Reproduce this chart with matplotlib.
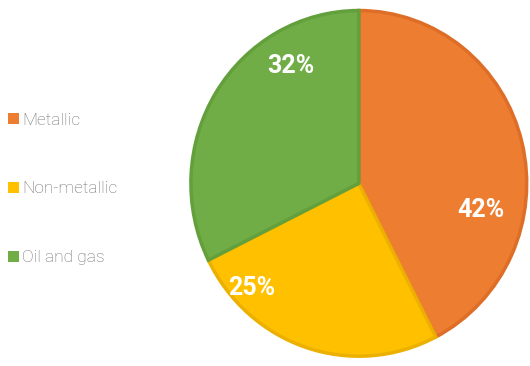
import matplotlib
matplotlib.use('Agg')
import matplotlib.pyplot as plt
from matplotlib.patches import Patch

plt.rcParams['font.family'] = ['Roboto', 'DejaVu Sans']

categories = ['Metallic', 'Non-metallic', 'Oil and gas']
shares = [42, 25, 32]
pct_labels = ['42%', '25%', '32%']

colors = ['#ED7D31', '#FFC000', '#70AD47']
edge_colors = ['#DE6E27', '#EBB000', '#63A03C']
# where the percentage labels sit, in pie-radius units from the centre
label_pos = [(0.72, -0.15), (-0.63, -0.60), (-0.40, 0.67)]

fig = plt.figure(figsize=(5.3, 3.66), dpi=100)
# the source picture is slightly stretched vertically, so no equal aspect
ax = fig.add_axes([0.357, 0.022, 0.640, 0.954])

wedges, _ = ax.pie(shares, colors=colors, startangle=90, counterclock=False,
                   radius=0.99, wedgeprops={'linewidth': 2.5})
for w, ec in zip(wedges, edge_colors):
    w.set_edgecolor(ec)

for (x, y), txt in zip(label_pos, pct_labels):
    ax.text(x, y, txt, ha='center', va='center', color='white',
            fontsize=18, fontweight='bold')

ax.set_xlim(-1, 1)
ax.set_ylim(-1, 1)
ax.set_aspect('auto')
ax.axis('off')

handles = [Patch(facecolor=c, edgecolor='none') for c in colors]
leg = fig.legend(handles, categories, loc='upper left',
                 bbox_to_anchor=(-0.014, 0.735), frameon=False,
                 fontsize=12.5, labelspacing=3.1, handlelength=0.62,
                 handleheight=0.62, handletextpad=0.2)
for t in leg.get_texts():
    t.set_color('#6e6e6e')
    t.set_fontweight('light')

fig.savefig('out.png', dpi=100)
